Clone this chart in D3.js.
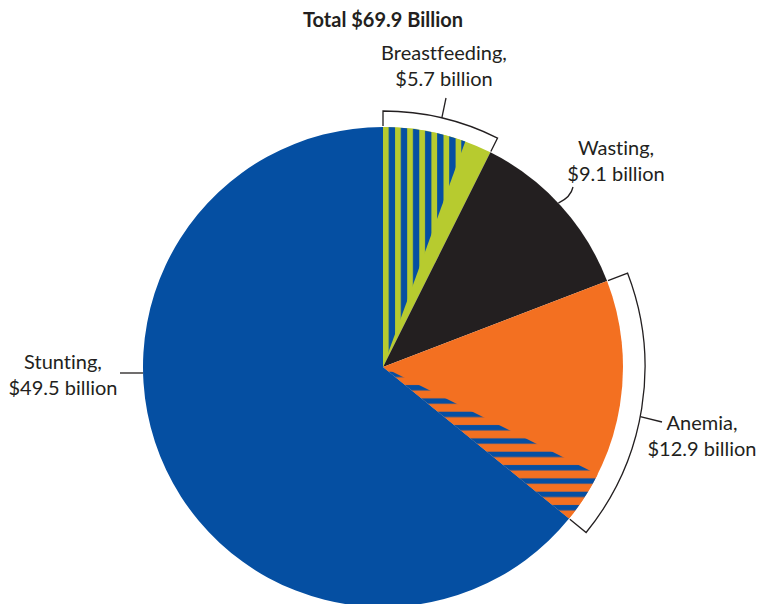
<!DOCTYPE html>
<html>
<head>
<meta charset="utf-8">
<script src="https://cdn.jsdelivr.net/npm/d3@7"></script>
<style>
  body { margin: 0; background: #fff; }
  text { font-family: Lato, "Open Sans", sans-serif; fill: #231f20; font-variant-ligatures: none; font-feature-settings: "liga" 0, "clig" 0; }
</style>
</head>
<body>
<svg id="chart" width="760" height="604"></svg>
<script>
// Cost components, billion US$
const categories = ["Breastfeeding", "Wasting", "Anemia", "Stunting"];
const values = [5.7, 9.1, 12.9, 49.5];
// Portion of each component that is also counted under stunting
const overlapWithStunting = [4.3, 0, 2.7, 0];
const totalLabel = "Total $69.9 Billion";

// Styling and layout
const colors = { Breastfeeding: "#b7cb2f", Wasting: "#231f20", Anemia: "#f37021", Stunting: "#054fa2" };
const hatchKind = { Breastfeeding: "vstripe", Anemia: "hstripe" };
const bracketRadius = { Breastfeeding: 256, Anemia: 262 };
const labelLayout = {
  Breastfeeding: { x: 444, y: 60 },
  Wasting:       { x: 616, y: 155 },
  Anemia:        { x: 702, y: 430 },
  Stunting:      { x: 63,  y: 369 }
};

const width = 760, height = 604;
const cx = 383, cy = 367, R = 240;
const svg = d3.select("#chart");

const data = categories.map((name, i) => ({ name, value: values[i], overlap: overlapWithStunting[i] }));
const total = d3.sum(values);
const angle = d3.scaleLinear().domain([0, total]).range([0, 2 * Math.PI]);

const pie = d3.pie().sort(null).value(d => d.value).startAngle(0).endAngle(2 * Math.PI);
const arcs = pie(data);
const arc = d3.arc().innerRadius(0).outerRadius(R);

// Stripe patterns for the shared portions
const defs = svg.append("defs");
const vp = defs.append("pattern").attr("id", "vstripe")
  .attr("patternUnits", "userSpaceOnUse").attr("x", 0).attr("y", 0)
  .attr("width", 12.1).attr("height", 10);
vp.append("rect").attr("width", 12.1).attr("height", 10).attr("fill", colors.Stunting);
vp.append("rect").attr("width", 5.7).attr("height", 10).attr("fill", colors.Breastfeeding);

const hp = defs.append("pattern").attr("id", "hstripe")
  .attr("patternUnits", "userSpaceOnUse").attr("x", 0).attr("y", 0)
  .attr("width", 10).attr("height", 13.33);
hp.append("rect").attr("width", 10).attr("height", 13.33).attr("fill", colors.Anemia);
hp.append("rect").attr("y", 4.7).attr("width", 10).attr("height", 5.4).attr("fill", colors.Stunting);

const g = svg.append("g").attr("transform", `translate(${cx},${cy})`);

// Solid slices
g.selectAll("path.slice").data(arcs).join("path")
  .attr("class", "slice")
  .attr("d", arc)
  .attr("fill", d => colors[d.data.name]);

// Hatched sub-wedges on the side that touches the stunting slice
const n = arcs.length;
const stuntIdx = categories.indexOf("Stunting");
const hatched = arcs.filter(d => d.data.overlap > 0).map(d => {
  const i = d.index;
  const span = angle(d.data.overlap);
  const prevIsStunt = (i - 1 + n) % n === stuntIdx;
  return prevIsStunt
    ? { name: d.data.name, startAngle: d.startAngle, endAngle: d.startAngle + span }
    : { name: d.data.name, startAngle: d.endAngle - span, endAngle: d.endAngle };
});
g.selectAll("path.hatch").data(hatched).join("path")
  .attr("class", "hatch")
  .attr("d", d => arc(d))
  .attr("fill", d => `url(#${hatchKind[d.name]})`);

// Brackets around the components with shared portions
const pt = (a, r) => [r * Math.sin(a), -r * Math.cos(a)];
const ink = "#231f20";
arcs.filter(d => d.data.overlap > 0).forEach(d => {
  const rb = bracketRadius[d.data.name];
  const p = d3.path();
  const s0 = pt(d.startAngle, R + 1), s1 = pt(d.startAngle, rb);
  const e1 = pt(d.endAngle, R + 1);
  p.moveTo(s0[0], s0[1]);
  p.lineTo(s1[0], s1[1]);
  p.arc(0, 0, rb, d.startAngle - Math.PI / 2, d.endAngle - Math.PI / 2, false);
  p.lineTo(e1[0], e1[1]);
  g.append("path").attr("d", p.toString())
    .attr("fill", "none").attr("stroke", ink).attr("stroke-width", 1.3);
});

// Leader lines
const byName = Object.fromEntries(arcs.map(d => [d.data.name, d]));
const leaders = [];
{
  const d = byName.Breastfeeding, a = (d.startAngle + d.endAngle) / 2;
  const p = pt(a, bracketRadius.Breastfeeding);
  leaders.push(`M${p[0]},${p[1]}L${446 - cx},${98 - cy}`);
}
{
  const d = byName.Wasting, a = (d.startAngle + d.endAngle) / 2 - 0.015;
  const p = pt(a, R);
  leaders.push(`M${p[0]},${p[1]}Q${571 - cx},${197 - cy} ${573 - cx},${187 - cy}`);
}
{
  const d = byName.Anemia, a = d.startAngle + (d.endAngle - d.startAngle) * 0.53;
  const p = pt(a, bracketRadius.Anemia);
  leaders.push(`M${p[0]},${p[1]}L${662 - cx},${422 - cy}`);
}
{
  const y = 373 - cy, x = -Math.sqrt(R * R - y * y);
  leaders.push(`M${120 - cx},${y}L${x},${y}`);
}
g.selectAll("path.leader").data(leaders).join("path")
  .attr("class", "leader").attr("d", d => d)
  .attr("fill", "none").attr("stroke", ink).attr("stroke-width", 1.3);

// Title
svg.append("text")
  .attr("x", cx).attr("y", 27)
  .attr("text-anchor", "middle")
  .attr("font-size", 20).attr("font-weight", 700)
  .text(totalLabel);

// Slice labels
const labels = svg.selectAll("text.label").data(data).join("text")
  .attr("class", "label")
  .attr("text-anchor", "middle")
  .attr("font-size", 20)
  .attr("transform", d => `translate(${labelLayout[d.name].x},${labelLayout[d.name].y})`);
labels.append("tspan").attr("x", 0).attr("y", 0).text(d => `${d.name},`);
labels.append("tspan").attr("x", 0).attr("y", 26).text(d => `$${d.value} billion`);
</script>
</body>
</html>
